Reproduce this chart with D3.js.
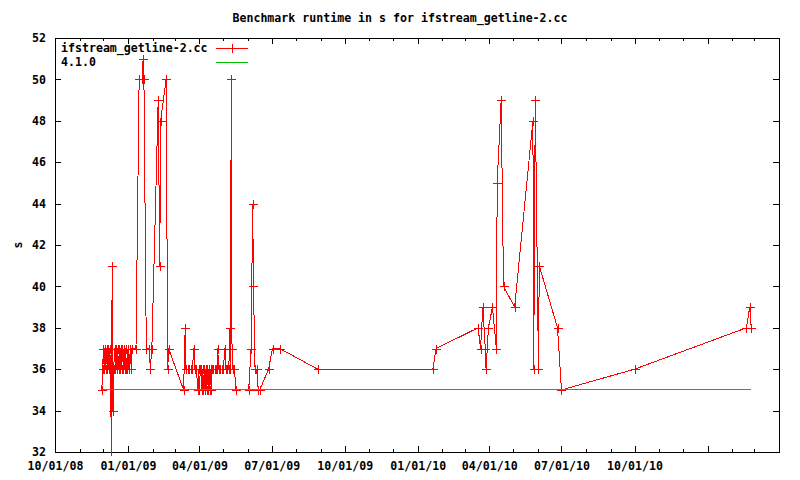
<!DOCTYPE html>
<html>
<head>
<meta charset="utf-8">
<script src="https://cdn.jsdelivr.net/npm/d3@7"></script>
<style>
html,body{margin:0;padding:0;background:#fff;}
svg{display:block;}
text{font-family:"DejaVu Sans Mono","Liberation Mono",monospace;font-weight:bold;font-size:11.6px;fill:#000;}
</style>
</head>
<body>
<svg id="chart" width="800" height="480"></svg>
<script>
// ---- data ----
const title = "Benchmark runtime in s for ifstream_getline-2.cc";
const yLabel = "s";
const seriesNames = ["ifstream_getline-2.cc", "4.1.0"];

const dates = [
  "2008-11-29","2008-11-30","2008-12-01","2008-12-02","2008-12-03","2008-12-04","2008-12-05","2008-12-06",
  "2008-12-07","2008-12-08","2008-12-09","2008-12-10","2008-12-11","2008-12-12","2008-12-13","2008-12-14",
  "2008-12-15","2008-12-16","2008-12-17","2008-12-18","2008-12-19","2008-12-20","2008-12-21","2008-12-22",
  "2008-12-23","2008-12-24","2008-12-25","2008-12-26","2008-12-27","2008-12-28","2008-12-29","2008-12-30",
  "2008-12-31","2009-01-01","2009-01-02","2009-01-04","2009-01-05","2009-01-06",
  "2009-01-11","2009-01-15","2009-01-19","2009-01-20","2009-01-21","2009-01-24","2009-01-28","2009-01-29",
  "2009-01-31","2009-02-08","2009-02-10","2009-02-11","2009-02-18","2009-02-20","2009-02-21",
  "2009-03-12","2009-03-14","2009-03-15","2009-03-17","2009-03-19","2009-03-21","2009-03-23","2009-03-25",
  "2009-03-26","2009-03-28","2009-03-30","2009-03-31","2009-04-01","2009-04-02","2009-04-03","2009-04-04",
  "2009-04-05","2009-04-06","2009-04-07","2009-04-08","2009-04-09","2009-04-10","2009-04-11","2009-04-12",
  "2009-04-13","2009-04-14","2009-04-15","2009-04-16","2009-04-17","2009-04-18","2009-04-20","2009-04-22",
  "2009-04-23","2009-04-24","2009-04-25","2009-04-27","2009-04-29","2009-05-01","2009-05-03","2009-05-04",
  "2009-05-06","2009-05-08","2009-05-09","2009-05-10","2009-05-11","2009-05-12","2009-05-13","2009-05-15",
  "2009-05-17",
  "2009-06-02","2009-06-05","2009-06-07","2009-06-08","2009-06-10","2009-06-12","2009-06-14","2009-06-16",
  "2009-06-27","2009-07-02","2009-07-11","2009-08-28",
  "2010-01-20","2010-01-24","2010-03-18","2010-03-21","2010-03-24","2010-03-27","2010-03-28","2010-03-31",
  "2010-04-05","2010-04-10","2010-04-11","2010-04-16","2010-04-19","2010-05-03","2010-05-26","2010-05-27",
  "2010-05-29","2010-06-02","2010-06-03","2010-06-26","2010-07-01","2010-10-01",
  "2011-02-19","2011-02-23","2011-02-25"
];
const runtimes = [
  35,36,37,36,37,36,37,36,
  37,36,37,36,31.8,41,34,36,
  37,36,37,36,37,36,37,36,
  37,36,37,36,37,36,37,36,
  36,37,36,37,36,37,
  37,50,50,51,50,37,37,36,
  37,49,41,48,50,36,37,
  35,38,36,36,36,36,36,37,
  36,36,35,36,35,36,36,35,
  36,35,36,35,36,35,36,35,
  36,35,36,35,36,36,36,36,
  36,37,36,36,36,36,37,36,
  36,36,38,36,50,37,36,36,
  35,
  35,37,44,40,36,36,35,35,
  36,37,37,36,
  36,37,38,37,39,37,36,38,
  39,37,45,49,40,39,48,36,
  49,36,41,38,35,36,
  38,39,38
];
const refDates = ["2008-11-29","2011-02-25"];
const refValues = [35, 35];

const xDomain = ["2008-10-01","2011-04-01"];
const xMajorTicks = ["2008-10-01","2009-01-01","2009-04-01","2009-07-01","2009-10-01",
                     "2010-01-01","2010-04-01","2010-07-01","2010-10-01","2011-01-01","2011-04-01"];
const xTickLabels = ["10/01/08","01/01/09","04/01/09","07/01/09","10/01/09",
                     "01/01/10","04/01/10","07/01/10","10/01/10","",""];
const yTicks = [32,34,36,38,40,42,44,46,48,50,52];

// ---- drawing ----
const parse = d3.utcParse("%Y-%m-%d");
const svg = d3.select("#chart");
const L = 55, R = 779, T = 38, B = 452;

const x = d3.scaleUtc().domain(xDomain.map(parse)).range([L, R]);
const y = d3.scaleLinear().domain([yTicks[0], yTicks[yTicks.length-1]]).range([B, T]);

const majors = xMajorTicks.map(parse);
const labelOf = new Map(majors.map((d,i)=>[+d, xTickLabels[i]]));
const minors = d3.utcMonth.range(parse(xDomain[0]), parse(xDomain[1])).filter(d => !labelOf.has(+d));

function styleAxis(g){ g.select(".domain").remove(); g.selectAll("line").attr("stroke","#000").attr("shape-rendering","crispEdges"); }

svg.append("g").attr("transform",`translate(0,${B})`)
  .call(d3.axisBottom(x).tickValues(majors).tickFormat(d=>labelOf.get(+d)).tickSizeInner(-6).tickSizeOuter(0).tickPadding(10)).call(styleAxis);
svg.append("g").attr("transform",`translate(0,${B})`)
  .call(d3.axisBottom(x).tickValues(minors).tickFormat("").tickSizeInner(-3).tickSizeOuter(0)).call(styleAxis);
svg.append("g").attr("transform",`translate(0,${T})`)
  .call(d3.axisTop(x).tickValues(majors).tickFormat("").tickSizeInner(-6).tickSizeOuter(0)).call(styleAxis);
svg.append("g").attr("transform",`translate(0,${T})`)
  .call(d3.axisTop(x).tickValues(minors).tickFormat("").tickSizeInner(-3).tickSizeOuter(0)).call(styleAxis);
svg.append("g").attr("transform",`translate(${L},0)`)
  .call(d3.axisLeft(y).tickValues(yTicks).tickFormat(d3.format("d")).tickSizeInner(-6).tickSizeOuter(0).tickPadding(9)).call(styleAxis);
svg.append("g").attr("transform",`translate(${R},0)`)
  .call(d3.axisRight(y).tickValues(yTicks).tickFormat("").tickSizeInner(-6).tickSizeOuter(0)).call(styleAxis);

svg.append("rect").attr("x",L+0.5).attr("y",T+0.5).attr("width",R-L).attr("height",B-T)
  .attr("fill","none").attr("stroke","#000").attr("shape-rendering","crispEdges");

// title and labels
svg.append("text").attr("x",400).attr("y",22).attr("text-anchor","middle").text(title);
svg.append("text").attr("transform","translate(18,245) rotate(-90)").attr("text-anchor","middle").attr("dy","0.32em").text(yLabel);

// series
const pts = dates.map((d,i)=>({date:parse(d), v:runtimes[i]}));
const ref = refDates.map((d,i)=>({date:parse(d), v:refValues[i]}));
const line = d3.line().x(d=>x(d.date)).y(d=>y(d.v));

svg.append("path").datum(pts).attr("d",line).attr("fill","none").attr("stroke","#ff0000").attr("stroke-width",1).attr("shape-rendering","crispEdges");
const cross = "M-4.5,0H4.5M0,-4.5V4.5";
svg.append("g").selectAll("path").data(pts.filter(d=>d.v>=32 && d.v<=52)).join("path")
  .attr("transform",d=>`translate(${Math.round(x(d.date))+0.5},${Math.round(y(d.v))+0.5})`)
  .attr("d",cross).attr("stroke","#ff0000").attr("fill","none").attr("shape-rendering","crispEdges");

svg.append("path").datum(ref).attr("d",line).attr("fill","none").attr("stroke","#00c000").attr("stroke-width",1).attr("shape-rendering","crispEdges");

// legend
const lg = svg.append("g");
lg.append("text").attr("x",61).attr("y",52).text(seriesNames[0]);
lg.append("text").attr("x",61).attr("y",66).text(seriesNames[1]);
lg.append("line").attr("x1",216).attr("x2",248).attr("y1",48.5).attr("y2",48.5).attr("stroke","#ff0000").attr("shape-rendering","crispEdges");
lg.append("path").attr("transform","translate(232.5,48.5)").attr("d",cross).attr("stroke","#ff0000").attr("shape-rendering","crispEdges");
lg.append("line").attr("x1",216).attr("x2",248).attr("y1",62.5).attr("y2",62.5).attr("stroke","#00c000").attr("shape-rendering","crispEdges");
</script>
</body>
</html>
